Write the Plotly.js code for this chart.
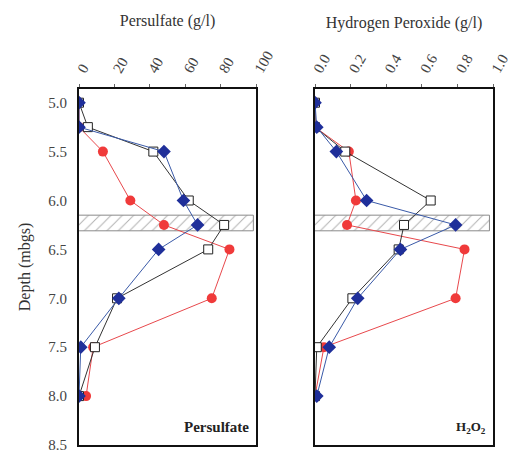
<!DOCTYPE html>
<html>
<head>
<meta charset="utf-8">
<script src="https://cdn.plot.ly/plotly-3.0.1.min.js"></script>
<style>html,body{margin:0;padding:0;background:#fff}#chart{width:512px;height:453px}</style>
</head>
<body>
<div id="chart"></div>
<script>
// Depths (m bgs)
const depth = [5.0, 5.25, 5.5, 6.0, 6.25, 6.5, 7.0, 7.5, 8.0];

// Persulfate (g/l)
const persBlue   = [0, 0, 48, 59, 67, 45, 22.5, 1, 0];
const persSquare = [0, 5, 42, 62, 82, 73, 21.5, 9, 0];
const persRed    = [0, 0, 13.5, 29, 48, 85, 75, 8, 4];

// Hydrogen peroxide (g/l)
const h2o2Blue   = [0, 0.01, 0.12, 0.29, 0.79, 0.48, 0.24, 0.08, 0.01];
const h2o2Square = [0, 0, 0.17, 0.65, 0.50, 0.47, 0.21, 0.01, 0];
const h2o2Red    = [0, 0, 0.19, 0.23, 0.18, 0.84, 0.79, 0.05, 0];

// Hatched zone
const bandDepth = [6.15, 6.31];
const bandPers  = [-2, 98.5];
const bandH2o2  = [-0.02, 0.98];

const persTicks = [0, 20, 40, 60, 80, 100];
const h2o2Ticks = [0.0, 0.2, 0.4, 0.6, 0.8, 1.0];
const depthTicks = [5.0, 5.5, 6.0, 6.5, 7.0, 7.5, 8.0, 8.5];

const serif = 'Liberation Serif, Times New Roman, serif';
const grey = '#444';

function band(xr, xa, ya) {
  return {
    x: [xr[0], xr[1], xr[1], xr[0], xr[0]],
    y: [bandDepth[0], bandDepth[0], bandDepth[1], bandDepth[1], bandDepth[0]],
    xaxis: xa, yaxis: ya, mode: 'lines', fill: 'toself',
    fillcolor: 'rgba(255,255,255,0)',
    fillpattern: {shape: '/', fgcolor: '#b0b0b0', bgcolor: 'rgba(255,255,255,0)', size: 8, solidity: 0.12},
    line: {color: '#8a8a8a', width: 1}, hoverinfo: 'skip', showlegend: false
  };
}
function red(x, xa, ya) {
  return {x: x, y: depth, xaxis: xa, yaxis: ya, mode: 'lines+markers',
    line: {color: '#e8484c', width: 1},
    marker: {symbol: 'circle', size: 10, color: '#f03a3a'}, showlegend: false};
}
function sq(x, xa, ya) {
  return {x: x, y: depth, xaxis: xa, yaxis: ya, mode: 'lines+markers',
    line: {color: '#333', width: 1},
    marker: {symbol: 'square', size: 9, color: '#fff', line: {color: '#222', width: 1}}, showlegend: false};
}
function blue(x, xa, ya) {
  return {x: x, y: depth, xaxis: xa, yaxis: ya, mode: 'lines+markers',
    line: {color: '#3a5aa8', width: 1},
    marker: {symbol: 'diamond', size: 10.5, color: '#1f2f9a'}, showlegend: false};
}

const data = [
  band(bandPers, 'x', 'y'), red(persRed, 'x', 'y'), sq(persSquare, 'x', 'y'), blue(persBlue, 'x', 'y'),
  band(bandH2o2, 'x2', 'y2'), red(h2o2Red, 'x2', 'y2'), sq(h2o2Square, 'x2', 'y2'), blue(h2o2Blue, 'x2', 'y2')
];

const yDom = [1 - 445/453, 1 - 89/453];
const yRange = [8.5, 4.86];

function xaxis(dom, range, ticks, fmt, title, anchor) {
  return {
    domain: dom, range: range, side: 'top', anchor: anchor,
    tickvals: ticks, ticktext: ticks.map(v => fmt(v)), tickangle: -60,
    ticks: 'outside', ticklen: 3, tickcolor: '#666',
    showgrid: false, zeroline: false,
    showline: true, mirror: true, linecolor: '#111', linewidth: 2,
    tickfont: {family: serif, size: 15, color: grey},
    title: {text: title, font: {family: serif, size: 16, color: '#333'}, standoff: 18}
  };
}

const layout = {
  width: 512, height: 453,
  margin: {l: 0, r: 0, t: 0, b: 0},
  paper_bgcolor: '#fff', plot_bgcolor: '#fff',
  xaxis: xaxis([79/512, 256/512], [0, 100], persTicks, v => String(v), 'Persulfate (g/l)', 'y'),
  xaxis2: xaxis([315/512, 493/512], [0, 1], h2o2Ticks, v => v.toFixed(1), 'Hydrogen Peroxide (g/l)', 'y2'),
  yaxis: {
    domain: yDom, range: yRange, anchor: 'x',
    tickvals: depthTicks, ticktext: depthTicks.map(v => v.toFixed(1)),
    ticks: 'outside', ticklen: 7, tickcolor: 'rgba(0,0,0,0)',
    ticklabeloverflow: 'allow',
    showgrid: false, zeroline: false,
    showline: true, mirror: true, linecolor: '#111', linewidth: 2,
    tickfont: {family: serif, size: 15, color: grey},
    title: {text: 'Depth (mbgs)', font: {family: serif, size: 16, color: '#333'}, standoff: 14}
  },
  yaxis2: {
    domain: yDom, range: yRange, anchor: 'x2',
    showticklabels: false, ticks: '',
    showgrid: false, zeroline: false,
    showline: true, mirror: true, linecolor: '#111', linewidth: 2
  },
  annotations: [
    {text: '<b>Persulfate</b>', xref: 'x', yref: 'y', x: 97, y: 8.32, xanchor: 'right', yanchor: 'middle',
     showarrow: false, font: {family: serif, size: 15, color: '#222'}},
    {text: '<b>H<sub>2</sub>O<sub>2</sub></b>', xref: 'x2', yref: 'y2', x: 0.97, y: 8.32, xanchor: 'right', yanchor: 'middle',
     showarrow: false, font: {family: serif, size: 13, color: '#222'}}
  ]
};

Plotly.newPlot('chart', data, layout, {displayModeBar: false, staticPlot: true});
</script>
</body>
</html>
